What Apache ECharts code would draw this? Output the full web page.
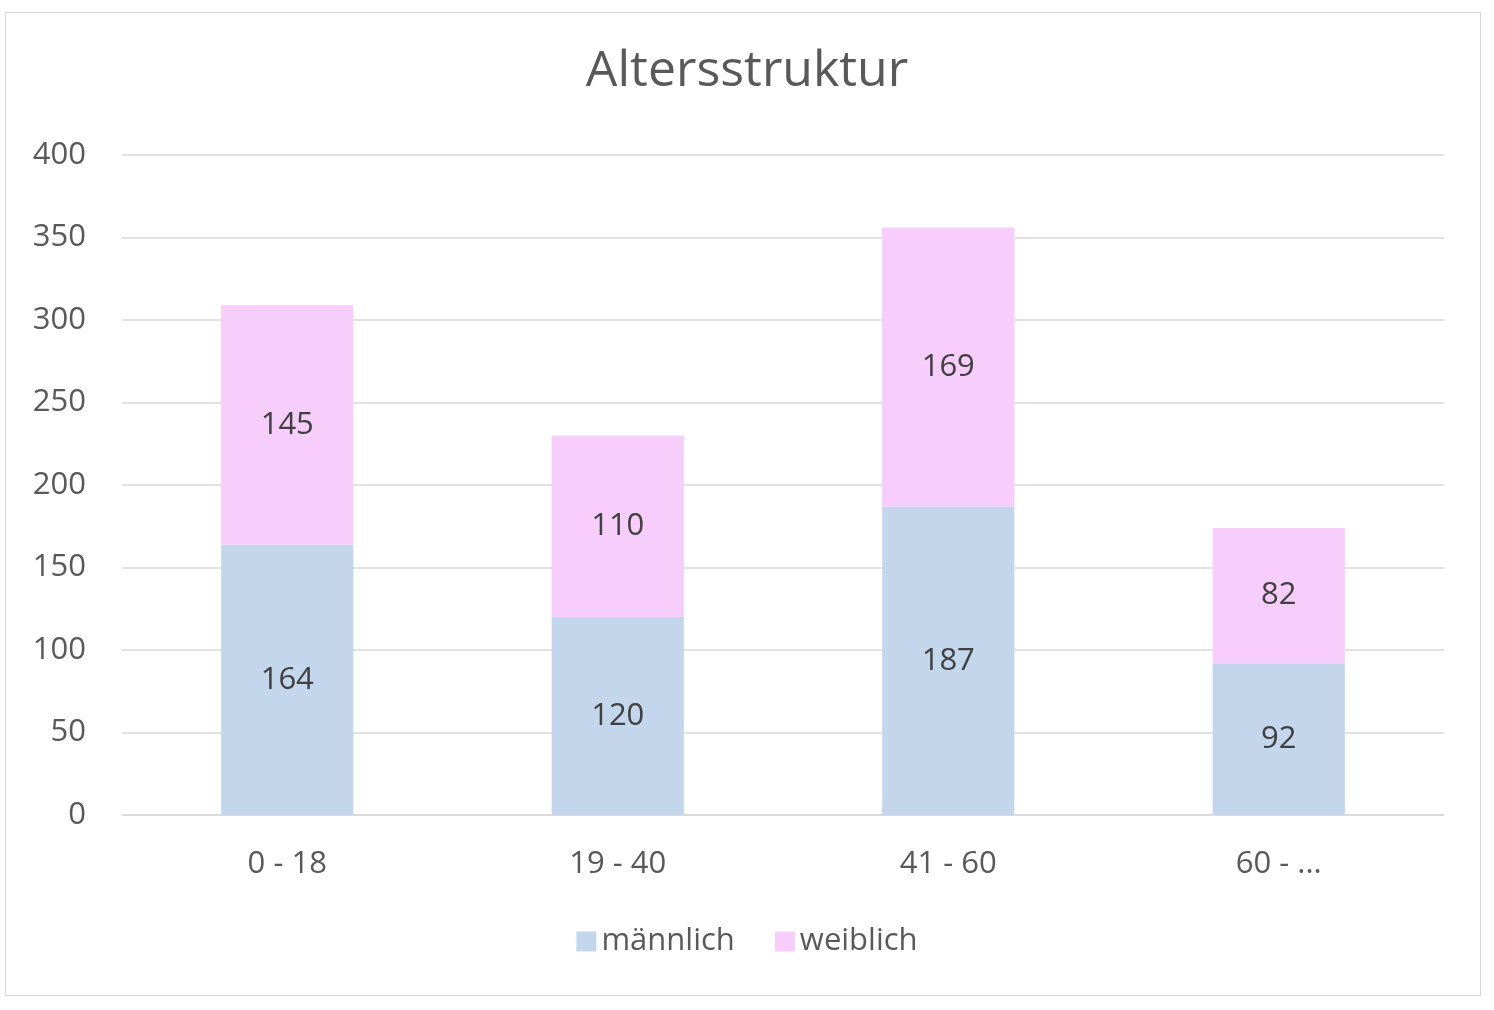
<!DOCTYPE html>
<html><head><meta charset="utf-8">
<script src="https://cdn.jsdelivr.net/npm/echarts@6/dist/echarts.min.js"></script>
<style>html,body{margin:0;padding:0;background:#fff}#c{width:1494px;height:1010px}
#f{position:absolute;left:5px;top:12px;width:1474px;height:982px;border:1.5px solid #d9d9d9;pointer-events:none}</style>
</head><body><div id="c"></div><div id="f"></div>
<script>
const categories = ['0 - 18','19 - 40','41 - 60','60 - ...'];
const maennlich = [164,120,187,92];
const weiblich = [145,110,169,82];
const yTicks = [0,50,100,150,200,250,300,350,400];
const font = 'Open Sans, Noto Sans, sans-serif';
const chart = echarts.init(document.getElementById('c'));
const lbl = {show:true,position:'inside',color:'#404040',fontSize:31,fontFamily:font};
chart.setOption({
  animation:false,
  title:{text:'Altersstruktur',left:'center',top:42,textStyle:{fontSize:50,fontWeight:'normal',color:'#595959',fontFamily:font}},
  legend:{bottom:48,itemWidth:20,itemHeight:20,itemGap:40,icon:'rect',textStyle:{fontSize:31,color:'#595959',fontFamily:font}},
  grid:{left:122,right:50,top:155,bottom:195},
  xAxis:{type:'category',data:categories,axisTick:{show:false},axisLine:{lineStyle:{color:'#d9d9d9',width:1.5}},
    axisLabel:{fontSize:31,color:'#595959',fontFamily:font,margin:34}},
  yAxis:{type:'value',min:yTicks[0],max:yTicks[yTicks.length-1],interval:50,axisLine:{show:false},
    splitLine:{lineStyle:{color:'#d9d9d9',width:1.5}},axisLabel:{fontSize:31,color:'#595959',fontFamily:font,margin:36}},
  series:[
    {name:'männlich',type:'bar',stack:'a',data:maennlich,barWidth:'40%',itemStyle:{color:'#C3D6EC'},label:lbl},
    {name:'weiblich',type:'bar',stack:'a',data:weiblich,barWidth:'40%',itemStyle:{color:'#F7CDFB'},label:lbl}
  ]
});
</script></body></html>
